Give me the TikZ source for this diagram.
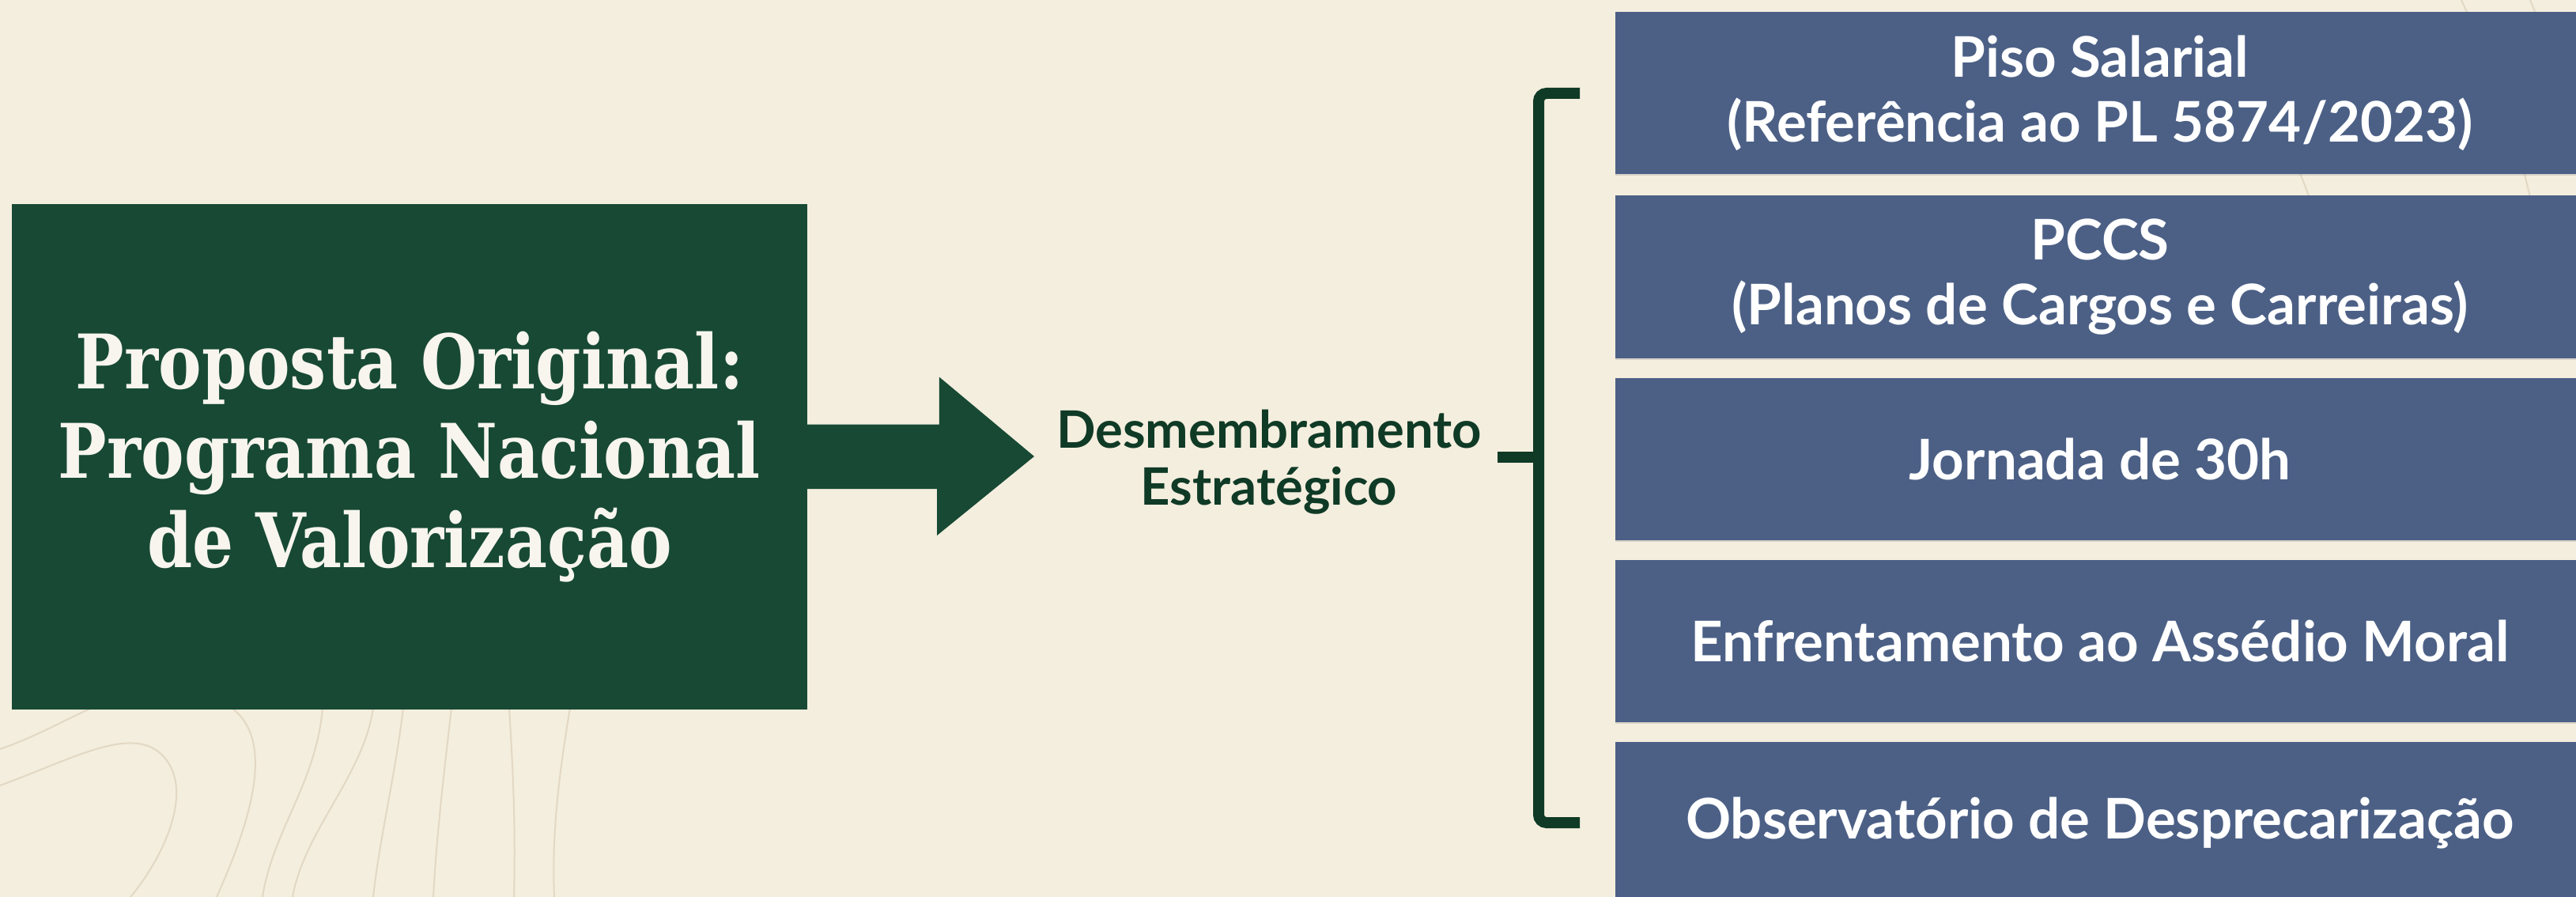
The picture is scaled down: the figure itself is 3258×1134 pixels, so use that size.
\documentclass[tikz,border=0pt]{standalone}
\usepackage{fontspec}
\setsansfont{Lato}
\newfontfamily\headserif{DejaVu Serif}[FakeStretch=0.86]
\usetikzlibrary{shadows}

\definecolor{paper}{RGB}{244,238,222}
\definecolor{forest}{RGB}{23,73,52}
\definecolor{pine}{RGB}{15,58,38}
\definecolor{slateblue}{RGB}{76,96,134}
\definecolor{contour}{RGB}{226,216,196}
\definecolor{ivory}{RGB}{247,245,238}

\tikzset{
  mainbox/.style={fill=forest, text=ivory, align=center, inner sep=0pt,
    minimum width=251.5pt, minimum height=159.75pt,
    font=\headserif\bfseries\fontsize{23.8pt}{28.25pt}\selectfont},
  midlabel/.style={text=pine, align=center, inner sep=0pt,
    font=\sffamily\bfseries\fontsize{16.3pt}{18pt}\selectfont},
  itembox/.style={fill=slateblue, text=white, align=center, inner sep=0pt,
    minimum width=306.5pt, minimum height=51.25pt,
    drop shadow={shadow xshift=0pt, shadow yshift=-0.5pt, opacity=0.25},
    font=\sffamily\bfseries\fontsize{17.7pt}{20.5pt}\selectfont},
  bracketline/.style={draw=pine, line width=3.5pt, rounded corners=2.5pt},
  topo/.style={draw=contour, line width=0.5pt},
}

\begin{document}
\begin{tikzpicture}[x=0.25pt, y=-0.25pt]
  \useasboundingbox (0,0) rectangle (3258,1134);
  \fill[paper] (0,0) rectangle (3258,1134);
  \clip (0,0) rectangle (3258,1134);

  % faint contour lines in the paper
  \draw[topo] (0,947) .. controls (50,930) and (90,905) .. (128,890);
  \draw[topo] (0,993) .. controls (90,960) and (160,920) .. (200,950)
                      .. controls (250,990) and (210,1080) .. (165,1134);
  \draw[topo] (293,895) .. controls (340,930) and (330,1010) .. (274,1134);
  \draw[topo] (408,895) .. controls (400,990) and (345,1050) .. (332,1134);
  \draw[topo] (472,895) .. controls (460,980) and (385,1050) .. (370,1134);
  \draw[topo] (510,895) .. controls (500,980) and (480,1060) .. (472,1134);
  \draw[topo] (571,895) .. controls (560,990) and (552,1060) .. (548,1134);
  \draw[topo] (644,895) .. controls (650,990) and (652,1060) .. (650,1134);
  \draw[topo] (721,895) .. controls (705,990) and (698,1060) .. (701,1134);
  \draw[topo] (3113,0) .. controls (3150,80) and (3180,160) .. (3200,250);
  \draw[topo] (3200,0) .. controls (3225,60) and (3245,120) .. (3258,170);
  \draw[topo] (2900,200) .. controls (2915,230) and (2925,260) .. (2935,300);

  % original proposal
  \node[mainbox] (orig) at (518,577.5) {Proposta Original:\\Programa Nacional\\de Valorização};

  % block arrow towards the split
  \coordinate (tip) at (1308,577);
  \fill[forest] (orig.east) ++(-2,-41) -- ++(168,0) -- ++(0,-60) -- (tip)
      -- ++(-123,100) -- ++(0,-59) -- ++(-168,0) -- cycle;

  \node[midlabel] (split) at (1605,584) {Desmembramento\\Estratégico};

  % resulting items
  \node[itembox] (b1) at (2656,118) {Piso Salarial\\(Referência ao PL 5874/2023)};
  \node[itembox] (b2) at (2656,350) {PCCS\\(Planos de Cargos e Carreiras)};
  \node[itembox] (b3) at (2656,580) {Jornada de 30h};
  \node[itembox] (b4) at (2656,810) {Enfrentamento ao Assédio Moral};
  \node[itembox] (b5) at (2656,1040) {Observatório de Desprecarização};

  % bracket grouping the items
  \coordinate (brk) at (1946,578);
  \draw[bracketline] ([xshift=-11pt]b1.west) -| (brk) |- ([xshift=-11pt]b5.west);
  \draw[draw=pine, line width=3.5pt, shorten <=4.75pt] (split.east |- brk) -- (brk);
\end{tikzpicture}
\end{document}
